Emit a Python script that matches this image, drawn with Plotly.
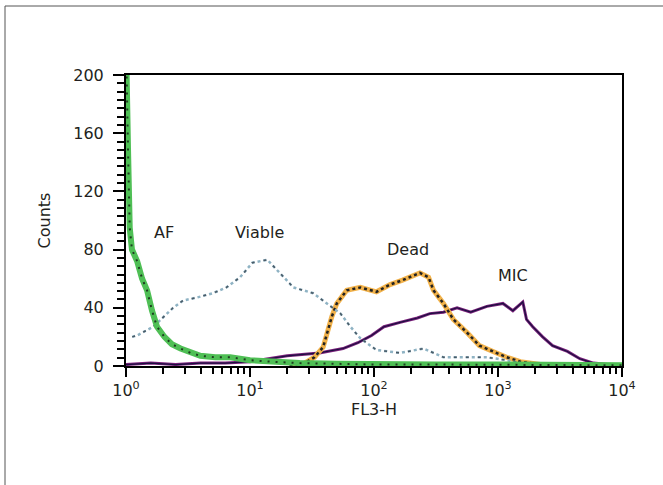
import plotly.graph_objects as go

# log10 of FL3-H and counts for each histogram
af_logx = [0.0, 0.005, 0.016, 0.03, 0.048, 0.09, 0.13, 0.17, 0.21, 0.25, 0.31, 0.37, 0.44, 0.52, 0.60, 0.72, 0.84, 1.0, 1.16, 1.4, 1.7, 2.0, 2.5, 3.0, 3.5, 4.0]
af_counts = [210, 200, 150, 95, 80, 72, 60, 52, 38, 27, 20, 15, 12, 9, 7, 6, 6, 4, 3, 2, 1.5, 1, 1, 1, 0.5, 0.5]

viable_logx = [0.05, 0.09, 0.22, 0.38, 0.46, 0.57, 0.70, 0.81, 0.92, 1.02, 1.14, 1.24, 1.35, 1.51, 1.62, 1.73, 1.81, 1.89, 2.02, 2.21, 2.40, 2.56, 2.75, 2.91, 3.07, 3.18]
viable_counts = [20, 21, 27, 40, 45, 47, 50, 54, 61, 71, 73, 64, 54, 50, 43, 36, 27, 19, 11, 9, 12, 6, 6, 6, 4, 2]

dead_logx = [1.32, 1.44, 1.52, 1.59, 1.66, 1.70, 1.78, 1.89, 2.02, 2.13, 2.23, 2.37, 2.44, 2.48, 2.56, 2.64, 2.75, 2.85, 2.96, 3.07, 3.18, 3.34]
dead_counts = [0, 2, 6, 13, 34, 43, 52, 54, 51, 56, 59, 64, 61, 52, 43, 32, 23, 14, 10, 6, 3, 1]

mic_logx = [0.0, 0.2, 0.4, 0.6, 0.8, 1.0, 1.3, 1.56, 1.75, 1.87, 1.98, 2.08, 2.21, 2.35, 2.45, 2.56, 2.67, 2.78, 2.91, 3.04, 3.12, 3.20, 3.23, 3.28, 3.36, 3.44, 3.56, 3.66, 3.77, 3.88, 4.0]
mic_counts = [1, 2, 1, 2, 2, 3, 7, 9, 12, 16, 21, 27, 30, 33, 36, 37, 40, 37, 41, 43, 38, 44, 32, 27, 20, 14, 10, 5, 2, 1, 0]

x_tickvals = [1, 10, 100, 1000, 10000]
x_ticktext = ["10<sup>0</sup>", "10<sup>1</sup>", "10<sup>2</sup>", "10<sup>3</sup>", "10<sup>4</sup>"]
y_tickvals = [0, 40, 80, 120, 160, 200]

labels = ["AF", "Viable", "Dead", "MIC"]
label_logx = [0.21, 0.86, 2.09, 2.98]
label_y = [92, 92, 80, 62]

FONT = "DejaVu Sans, sans-serif"
TXT = "#231f20"

def lin(v):
    return [10 ** a for a in v]

fig = go.Figure()
# MIC
fig.add_trace(go.Scatter(x=lin(mic_logx), y=mic_counts, mode="lines",
                         line=dict(color="#7a1f7a", width=3), hoverinfo="skip"))
fig.add_trace(go.Scatter(x=lin(mic_logx), y=mic_counts, mode="lines",
                         line=dict(color="#1a1040", width=1.2), hoverinfo="skip"))
# Dead
fig.add_trace(go.Scatter(x=lin(dead_logx), y=dead_counts, mode="lines",
                         line=dict(color="#f2b24a", width=5), hoverinfo="skip"))
fig.add_trace(go.Scatter(x=lin(dead_logx), y=dead_counts, mode="lines",
                         line=dict(color="#222222", width=2.5, dash="dot"), hoverinfo="skip"))
# Viable
fig.add_trace(go.Scatter(x=lin(viable_logx), y=viable_counts, mode="lines",
                         line=dict(color="#8fb3c4", width=2.5, dash="dot"), hoverinfo="skip"))
fig.add_trace(go.Scatter(x=lin(viable_logx), y=viable_counts, mode="lines",
                         line=dict(color="#4a5a66", width=1.5, dash="3px,9px"), hoverinfo="skip"))
# AF
fig.add_trace(go.Scatter(x=lin(af_logx), y=af_counts, mode="lines",
                         line=dict(color="#4fbf55", width=6), hoverinfo="skip"))
fig.add_trace(go.Scatter(x=lin(af_logx), y=af_counts, mode="lines",
                         line=dict(color="#1d3d1f", width=2, dash="2px,6px"), hoverinfo="skip"))

for t, xv, yv in zip(labels, label_logx, label_y):
    fig.add_annotation(x=xv, y=yv, xref="x", yref="y", text=t, showarrow=False,
                       font=dict(family=FONT, size=16, color=TXT), xanchor="left", yanchor="middle")

fig.update_xaxes(type="log", range=[0, 4], showline=True, linecolor="black", linewidth=2,
                 mirror=True, ticks="outside", ticklen=9, tickwidth=2, tickcolor="black",
                 tickvals=x_tickvals, ticktext=x_ticktext, showgrid=False, zeroline=False,
                 minor=dict(ticks="outside", ticklen=6, tickwidth=2, tickcolor="black", dtick="D1", showgrid=False),
                 tickfont=dict(family=FONT, size=16, color=TXT),
                 title=dict(text="FL3-H", font=dict(family=FONT, size=16, color=TXT), standoff=2))
fig.update_yaxes(range=[0, 200], showline=True, linecolor="black", linewidth=2,
                 mirror=True, ticks="outside", ticklen=11, tickwidth=2, tickcolor="black",
                 tickvals=y_tickvals, showgrid=False, zeroline=False, ticklabelstandoff=6,
                 minor=dict(ticks="outside", ticklen=7, tickwidth=2, tickcolor="black", dtick=40 / 7, tick0=0, showgrid=False),
                 tickfont=dict(family=FONT, size=16, color=TXT),
                 title=dict(text="Counts", font=dict(family=FONT, size=16, color=TXT), standoff=19))

fig.add_shape(type="rect", xref="paper", yref="paper",
              x0=(5 - 126) / 496, x1=1 + 60 / 496, y0=-(140) / 291, y1=1 + (75 - 6) / 291,
              line=dict(color="#555555", width=1), layer="below")

fig.update_layout(width=663, height=485, margin=dict(l=126, r=41, t=75, b=119),
                  paper_bgcolor="white", plot_bgcolor="white", showlegend=False,
                  font=dict(family=FONT, color=TXT))

fig.write_html("out.html")
